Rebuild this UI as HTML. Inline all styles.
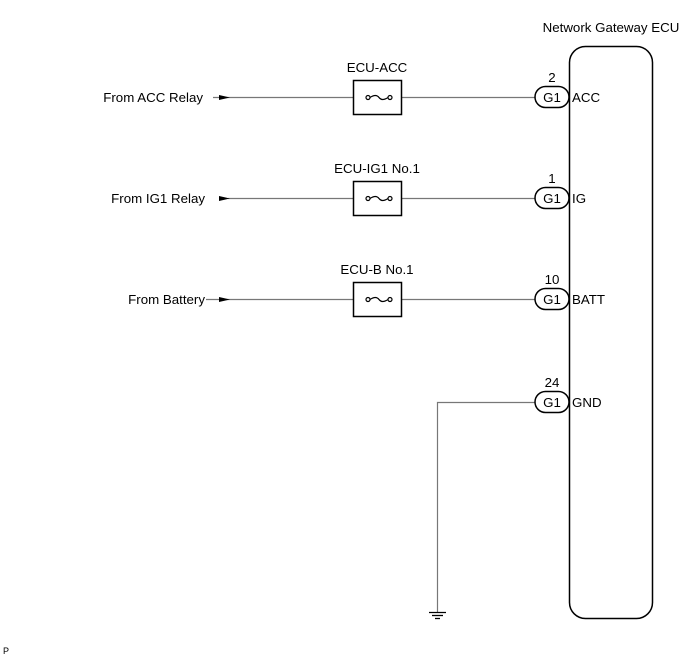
<!DOCTYPE html><html><head><style>body{margin:0;background:#fff}</style></head><body>
<svg width="691" height="660" xmlns="http://www.w3.org/2000/svg" font-family="Liberation Sans, Arial, sans-serif" font-size="13.3">
<rect x="569.5" y="46.5" width="83" height="572" rx="16" fill="none" stroke="#000" stroke-width="1.5"/>
<text x="611" y="32" text-anchor="middle">Network Gateway ECU</text>
<g stroke="#777" stroke-width="1.2">
<line x1="213" y1="97.5" x2="536" y2="97.5"/>
<line x1="228" y1="198.5" x2="536" y2="198.5"/>
<line x1="206" y1="299.5" x2="536" y2="299.5"/>
<polyline points="536,402.5 437.5,402.5 437.5,612" fill="none"/>
</g>
<g stroke="#000" stroke-width="1.3"><line x1="429" y1="612.5" x2="446" y2="612.5"/><line x1="432" y1="615.5" x2="443" y2="615.5"/><line x1="435" y1="618.5" x2="440" y2="618.5"/></g>
<g fill="#000">
<polygon points="219,95 230,97.5 219,100"/>
<polygon points="219,196 230,198.5 219,201"/>
<polygon points="219,297 230,299.5 219,302"/>
</g>
<text x="203" y="102" text-anchor="end">From ACC Relay</text>
<text x="205" y="203" text-anchor="end">From IG1 Relay</text>
<text x="205" y="304" text-anchor="end">From Battery</text>
<g fill="#fff" stroke="#000" stroke-width="1.5">
<rect x="353.5" y="80.5" width="48" height="34"/>
<rect x="353.5" y="181.5" width="48" height="34"/>
<rect x="353.5" y="282.5" width="48" height="34"/>
</g>
<g fill="none" stroke="#000" stroke-width="1.2">
<path d="M370,97.5 q6,-4 9,0 t9,0"/><circle cx="368" cy="97.5" r="2"/><circle cx="390" cy="97.5" r="2"/>
<path d="M370,198.5 q6,-4 9,0 t9,0"/><circle cx="368" cy="198.5" r="2"/><circle cx="390" cy="198.5" r="2"/>
<path d="M370,299.5 q6,-4 9,0 t9,0"/><circle cx="368" cy="299.5" r="2"/><circle cx="390" cy="299.5" r="2"/>
</g>
<text x="377" y="72" text-anchor="middle">ECU-ACC</text>
<text x="377" y="173" text-anchor="middle">ECU-IG1 No.1</text>
<text x="377" y="274" text-anchor="middle">ECU-B No.1</text>
<g fill="#fff" stroke="#000" stroke-width="1.5">
<rect x="535" y="86.5" width="34" height="21" rx="10.5"/>
<rect x="535" y="187.5" width="34" height="21" rx="10.5"/>
<rect x="535" y="288.5" width="34" height="21" rx="10.5"/>
<rect x="535" y="391.5" width="34" height="21" rx="10.5"/>
</g>
<g text-anchor="middle">
<text x="552" y="102">G1</text><text x="552" y="203">G1</text><text x="552" y="304">G1</text><text x="552" y="407">G1</text>
<text x="552" y="82">2</text><text x="552" y="183">1</text><text x="552" y="284">10</text><text x="552" y="387">24</text>
</g>
<text x="572" y="102">ACC</text><text x="572" y="203">IG</text><text x="572" y="304">BATT</text><text x="572" y="407">GND</text>
<text x="3" y="654" font-size="9">P</text>
</svg>
</body></html>
